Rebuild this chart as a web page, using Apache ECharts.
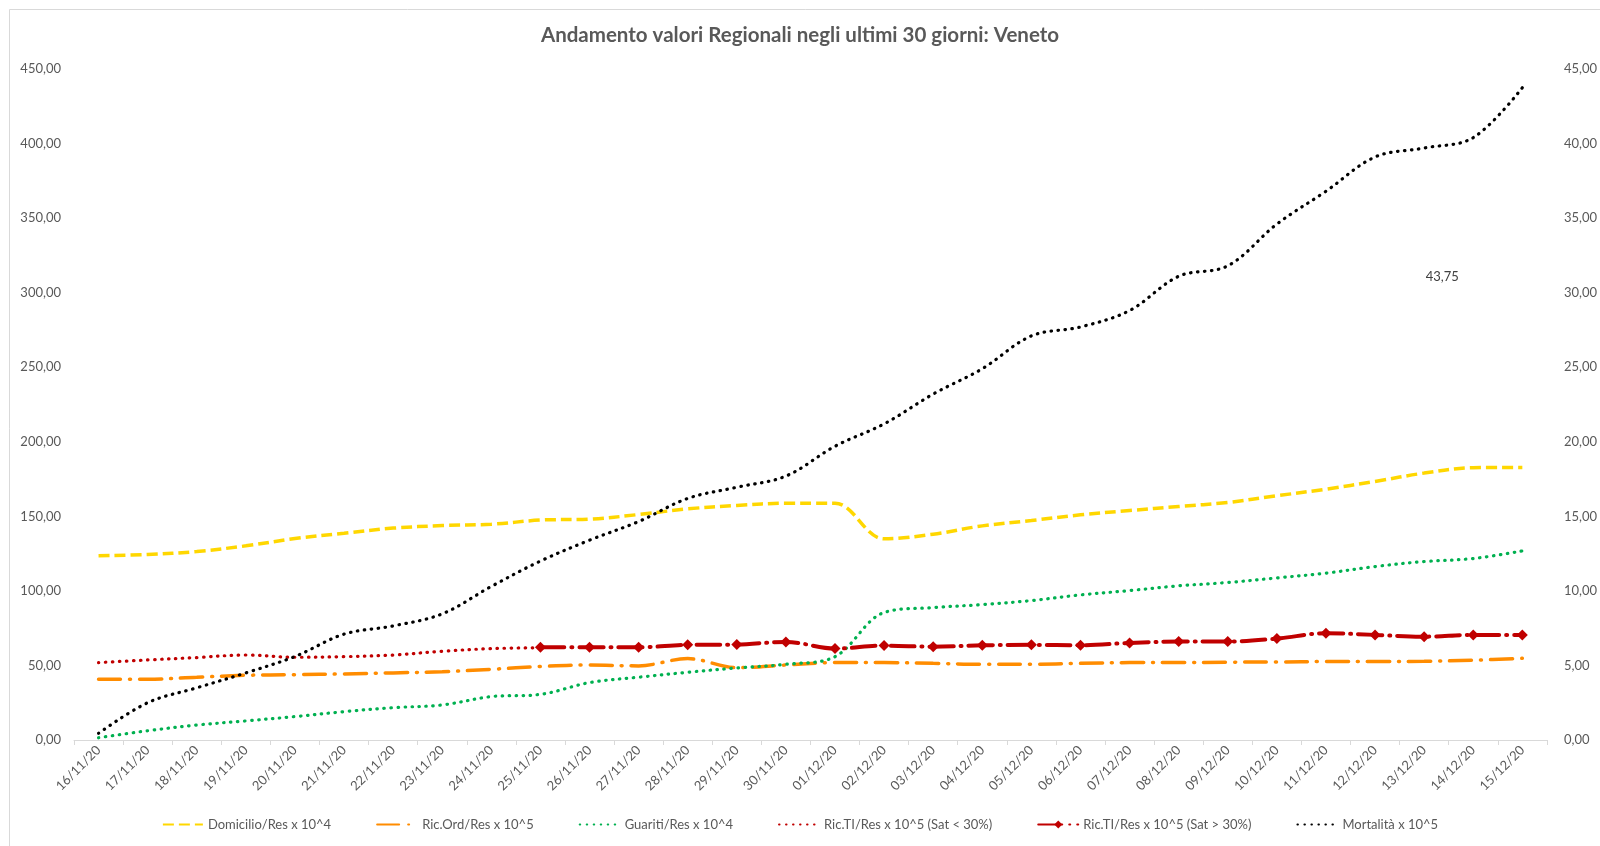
<!DOCTYPE html>
<html>
<head>
<meta charset="utf-8">
<script src="https://cdn.jsdelivr.net/npm/echarts@6/dist/echarts.min.js"></script>
<style>
html,body{margin:0;padding:0;background:#fff;}
#chart{width:1600px;height:846px;}
</style>
</head>
<body>
<div id="chart"></div>
<script>
const categories = ['16/11/20','17/11/20','18/11/20','19/11/20','20/11/20','21/11/20','22/11/20','23/11/20','24/11/20','25/11/20','26/11/20','27/11/20','28/11/20','29/11/20','30/11/20','01/12/20','02/12/20','03/12/20','04/12/20','05/12/20','06/12/20','07/12/20','08/12/20','09/12/20','10/12/20','11/12/20','12/12/20','13/12/20','14/12/20','15/12/20'];
const domicilio = [123.5,124.4,126.4,130.2,135.1,138.7,142.1,143.8,144.7,147.5,148.1,151.2,155.0,157.3,158.8,158.8,134.9,138.0,143.6,147.2,151.0,153.9,156.6,159.3,163.8,168.2,173.4,179.0,182.6,182.8];
const ricOrd = [40.7,40.7,42.1,43.4,43.8,44.3,45.0,45.8,47.4,49.3,50.3,49.7,54.6,48.5,50.3,51.9,51.9,51.4,50.8,50.8,51.4,51.9,51.9,52.2,52.3,52.6,52.6,52.8,53.5,54.8];
const guariti = [1.5,6.2,10.0,12.8,15.7,19.0,21.7,23.5,29.1,30.6,38.5,42.1,45.4,48.3,50.8,55.9,85.5,88.8,90.8,93.5,97.3,100.2,103.4,105.6,108.7,111.9,116.3,119.7,121.7,126.8];
const ricTIlow = [51.9,53.7,55.3,57.0,55.5,55.9,57.0,59.5,61.3,61.9,null,null,null,null,null,null,null,null,null,null,null,null,null,null,null,null,null,null,null,null];
const ricTIhigh = [null,null,null,null,null,null,null,null,null,62.2,62.2,62.2,63.8,64.0,65.8,61.3,63.3,62.6,63.5,63.8,63.5,65.1,66.0,66.0,68.0,71.6,70.5,69.3,70.5,70.5];
const mortalita = [0.45,2.5,3.5,4.5,5.6,7.1,7.65,8.46,10.3,12.0,13.4,14.65,16.2,16.95,17.7,19.7,21.2,23.2,24.9,27.1,27.7,28.8,31.1,31.8,34.6,36.8,39.1,39.7,40.4,43.75];
const seriesNames = ['Domicilio/Res x 10^4','Ric.Ord/Res x 10^5','Guariti/Res x 10^4','Ric.TI/Res x 10^5 (Sat < 30%)','Ric.TI/Res x 10^5 (Sat > 30%)','Mortalità x 10^5'];

const FONT = 'Lato, "Open Sans", sans-serif';
const fmt = v => Number(v).toFixed(2).replace('.', ',');
const TXT = '#595959';

const chart = echarts.init(document.getElementById('chart'), null, {renderer:'canvas'});
const lastIdx = mortalita.length - 1;
chart.setOption({
  animation: false,
  backgroundColor: '#fff',
  textStyle: {fontFamily: FONT},
  graphic: [{
    type: 'rect', left: 7, top: 7, shape: {width: 1600, height: 846},
    style: {fill: 'none', stroke: '#d9d9d9', lineWidth: 1}, silent: true, z: -10
  }],
  title: {
    text: 'Andamento valori Regionali negli ultimi 30 giorni: Veneto',
    left: 'center', top: 20,
    textStyle: {fontFamily: FONT, fontSize: 20.5, fontWeight: 'bold', color: TXT}
  },
  legend: {
    bottom: 10, left: 'center',
    itemWidth: 40, itemHeight: 10, itemGap: 45,
    textStyle: {fontFamily: FONT, fontSize: 13, color: TXT},
    data: seriesNames.map((n, i) => i === 4 ? {name: n} : {name: n, itemStyle: {opacity: 0}})
  },
  grid: {left: 74, right: 51, top: 69, bottom: 106},
  xAxis: {
    type: 'category', data: categories, boundaryGap: true,
    axisLine: {lineStyle: {color: '#d9d9d9', width: 1}},
    axisTick: {show: true, alignWithLabel: false, length: 5, lineStyle: {color: '#d9d9d9'}},
    axisLabel: {rotate: 45, fontSize: 13, color: TXT, fontFamily: FONT, margin: 8, interval: 0},
    splitLine: {show: false}
  },
  yAxis: [{
    type: 'value', min: 0, max: 450, interval: 50,
    axisLine: {show: false}, axisTick: {show: false}, splitLine: {show: false},
    axisLabel: {formatter: fmt, fontSize: 13, color: TXT, fontFamily: FONT, margin: 13}
  },{
    type: 'value', min: 0, max: 45, interval: 5, position: 'right',
    axisLine: {show: false}, axisTick: {show: false}, splitLine: {show: false},
    axisLabel: {formatter: fmt, fontSize: 13, color: TXT, fontFamily: FONT, margin: 17}
  }],
  series: [{
    name: seriesNames[0], type: 'line', data: domicilio, smooth: 0.35, symbol: 'none',
    itemStyle: {color: '#FFD700'},
    lineStyle: {color: '#FFD700', width: 3.5, type: [11, 5]}
  },{
    name: seriesNames[1], type: 'line', data: ricOrd, smooth: 0.35, symbol: 'none',
    itemStyle: {color: '#FF8C00'},
    lineStyle: {color: '#FF8C00', width: 3.5, type: [22, 9, 1, 9], cap: 'round'}
  },{
    name: seriesNames[2], type: 'line', data: guariti, smooth: 0.35, symbol: 'none',
    itemStyle: {color: '#00B050'},
    lineStyle: {color: '#00B050', width: 3.2, type: [0.5, 6.5], cap: 'round'}
  },{
    name: seriesNames[3], type: 'line', data: ricTIlow, smooth: 0.35, symbol: 'none',
    itemStyle: {color: '#C00000'},
    lineStyle: {color: '#C00000', width: 3.2, type: [0.5, 6.5], cap: 'round'}
  },{
    name: seriesNames[4], type: 'line', data: ricTIhigh, smooth: 0.35,
    symbol: 'diamond', symbolSize: 11, showSymbol: true,
    itemStyle: {color: '#C00000'},
    lineStyle: {color: '#C00000', width: 4, type: [24, 7, 1, 7], cap: 'round'}
  },{
    name: seriesNames[5], type: 'line', yAxisIndex: 1, smooth: 0.35, symbol: 'none',
    data: mortalita,
    itemStyle: {color: '#000000'},
    lineStyle: {color: '#000000', width: 3.2, type: [0.5, 6.5], cap: 'round'},
    markPoint: {
      symbol: 'circle', symbolSize: 0, silent: true,
      data: [{coord: [categories[lastIdx], mortalita[lastIdx]], value: mortalita[lastIdx]}],
      label: {
        show: true, position: 'inside', offset: [-80, 189], formatter: p => fmt(p.value),
        fontSize: 13, color: '#404040', fontFamily: FONT
      }
    }
  }]
});
</script>
</body>
</html>
